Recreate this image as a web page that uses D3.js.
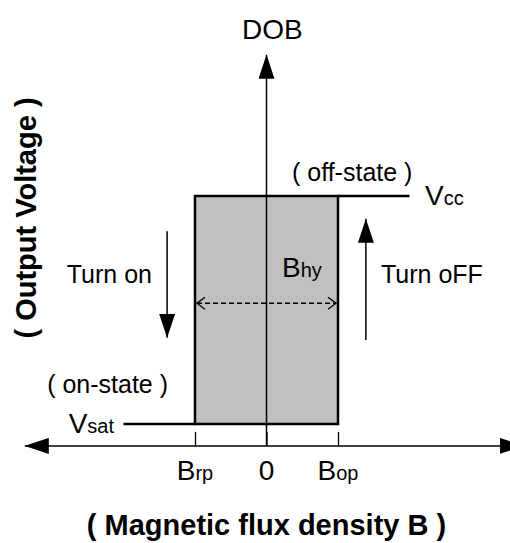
<!DOCTYPE html>
<html>
<head>
<meta charset="UTF-8">
<title>DOB hysteresis</title>
<script src="https://d3js.org/d3.v7.min.js"></script>
<style>
  body { margin: 0; background: #fff; }
  text { font-family: "Liberation Sans", Arial, sans-serif; fill: #000; }
</style>
</head>
<body>
<div id="chart"></div>
<script>
// field values (B) and output levels, in chart units
var fieldPoints = [-1, 0, 1];              // Brp, 0, Bop
var fieldLabels = [["B", "rp"], ["0", ""], ["B", "op"]];
var levels = { sat: 0, cc: 1 };          // Vsat, Vcc
var axisX = [-3.38, 3.6];                  // horizontal axis extent
var axisY = [-0.096, 1.62];                // vertical axis extent
var offLine = [1, 2.0];                    // Vcc line to the right
var onLine = [-2.0, -1];                   // Vsat line to the left
var hyLevel = 0.53;                        // dashed Bhy arrow
var turnOn = { b: -1.39, from: 0.845, to: 0.378 };
var turnOff = { b: 1.39, from: 0.368, to: 0.9 };

var width = 510, height = 543;

var svg = d3.select("#chart").append("svg")
    .attr("width", width)
    .attr("height", height);

var x = d3.scaleLinear().domain([-1, 1]).range([195, 338]);
var y = d3.scaleLinear().domain([0, 1]).range([424, 196]);

// markers
var defs = svg.append("defs");
function solidMarker(id, w, l) {
    defs.append("marker")
        .attr("id", id)
        .attr("markerUnits", "userSpaceOnUse")
        .attr("viewBox", "0 0 " + l + " " + w)
        .attr("refX", l).attr("refY", w / 2)
        .attr("markerWidth", l).attr("markerHeight", w)
        .attr("orient", "auto-start-reverse")
        .append("path")
        .attr("d", "M0,0L" + l + "," + (w / 2) + "L0," + w + "Z")
        .attr("fill", "#000");
}
solidMarker("axisHead", 16, 24);
solidMarker("turnHead", 16, 24);

defs.append("marker")
    .attr("id", "openHead")
    .attr("markerUnits", "userSpaceOnUse")
    .attr("viewBox", "0 0 10 14")
    .attr("refX", 9).attr("refY", 7)
    .attr("markerWidth", 10).attr("markerHeight", 14)
    .attr("orient", "auto-start-reverse")
    .append("path")
    .attr("d", "M1,1L9,7L1,13")
    .attr("fill", "none")
    .attr("stroke", "#000")
    .attr("stroke-width", 1.3);

// hysteresis loop
svg.append("rect")
    .attr("x", x(fieldPoints[0]))
    .attr("y", y(levels.cc))
    .attr("width", x(fieldPoints[2]) - x(fieldPoints[0]))
    .attr("height", y(levels.sat) - y(levels.cc))
    .attr("fill", "#c0c0c0")
    .attr("stroke", "#000")
    .attr("stroke-width", 2.5);

svg.append("line")
    .attr("x1", x(offLine[0])).attr("x2", x(offLine[1]))
    .attr("y1", y(levels.cc)).attr("y2", y(levels.cc))
    .attr("stroke", "#000").attr("stroke-width", 2.5);

svg.append("line")
    .attr("x1", x(onLine[0])).attr("x2", x(onLine[1]))
    .attr("y1", y(levels.sat)).attr("y2", y(levels.sat))
    .attr("stroke", "#000").attr("stroke-width", 2.5);

// horizontal axis, arrows both ends
svg.append("line")
    .attr("x1", x(axisX[0])).attr("x2", x(axisX[1]))
    .attr("y1", y(axisY[0])).attr("y2", y(axisY[0]))
    .attr("stroke", "#000").attr("stroke-width", 1.5)
    .attr("marker-start", "url(#axisHead)")
    .attr("marker-end", "url(#axisHead)");

// vertical axis
svg.append("line")
    .attr("x1", x(0)).attr("x2", x(0))
    .attr("y1", y(axisY[0])).attr("y2", y(axisY[1]))
    .attr("stroke", "#000").attr("stroke-width", 1.5)
    .attr("marker-end", "url(#axisHead)");

// ticks
var ticks = svg.append("g")
    .attr("transform", "translate(0," + y(axisY[0]) + ")")
    .call(d3.axisTop(x).tickValues(fieldPoints).tickSize(14).tickFormat(""));
ticks.select(".domain").remove();
ticks.selectAll("line").attr("stroke-width", 1.3);

// tick labels with subscripts
var tl = svg.selectAll(".tlabel")
    .data(fieldPoints)
    .enter().append("text")
    .attr("class", "tlabel")
    .attr("x", function (d) { return x(d); })
    .attr("y", 480)
    .attr("text-anchor", "middle")
    .style("font-size", "28px");
tl.append("tspan").text(function (d, i) { return fieldLabels[i][0]; });
tl.append("tspan").style("font-size", "20px").text(function (d, i) { return fieldLabels[i][1]; });

// dashed Bhy arrow
svg.append("line")
    .attr("x1", x(fieldPoints[0]) + 2).attr("x2", x(fieldPoints[2]) - 2)
    .attr("y1", y(hyLevel)).attr("y2", y(hyLevel))
    .attr("stroke", "#000").attr("stroke-width", 1.5)
    .attr("stroke-dasharray", "5,3")
    .attr("marker-start", "url(#openHead)")
    .attr("marker-end", "url(#openHead)");

// turn on / turn off arrows
[turnOn, turnOff].forEach(function (a) {
    svg.append("line")
        .attr("x1", x(a.b)).attr("x2", x(a.b))
        .attr("y1", y(a.from)).attr("y2", y(a.to))
        .attr("stroke", "#000").attr("stroke-width", 1.5)
        .attr("marker-end", "url(#turnHead)");
});

// labels
function label(txt, sub, px, py, size, anchor) {
    var t = svg.append("text")
        .attr("x", px).attr("y", py)
        .attr("text-anchor", anchor || "start")
        .style("font-size", size + "px");
    t.append("tspan").text(txt);
    if (sub) t.append("tspan").style("font-size", "20px").text(sub);
    return t;
}

label("DOB", null, 242, 39, 28);
label("( off-state )", null, 292, 181, 25);
label("V", "cc", 425, 205, 28);
label("B", "hy", 282, 277, 28);
label("Turn on", null, 152, 283, 25, "end");
label("Turn oFF", null, 381, 283, 25);
label("( on-state )", null, 168, 393, 25, "end");
label("V", "sat", 114, 433, 28, "end");

svg.append("text")
    .attr("x", x(0)).attr("y", 535)
    .attr("text-anchor", "middle")
    .style("font-size", "29px")
    .style("font-weight", "bold")
    .text("( Magnetic flux density B )");

svg.append("text")
    .attr("transform", "translate(36,218) rotate(-90)")
    .attr("text-anchor", "middle")
    .style("font-size", "29px")
    .style("font-weight", "bold")
    .text("( Output Voltage )");
</script>
</body>
</html>
